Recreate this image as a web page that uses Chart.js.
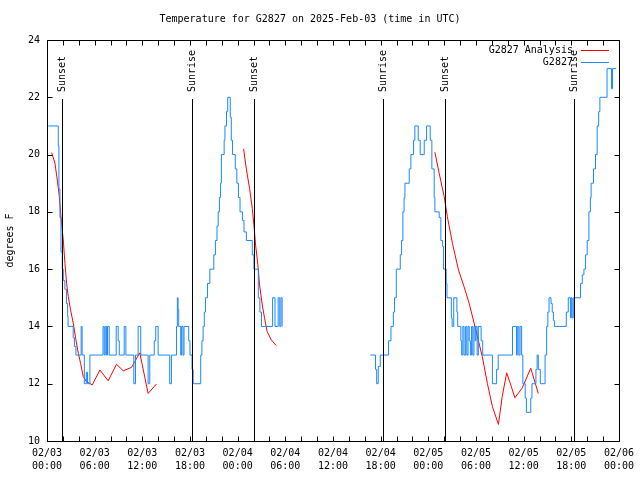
<!DOCTYPE html>
<html>
<head>
<meta charset="utf-8">
<script src="https://cdn.jsdelivr.net/npm/chart.js@4.4.1/dist/chart.umd.min.js"></script>
<style>
  html, body { margin: 0; padding: 0; background: #fff; }
  #wrap { width: 640px; height: 480px; }
</style>
</head>
<body>
<div id="wrap"><canvas id="tempChart" width="640" height="480"></canvas></div>
<script>
// hours since 02/03 00:00 UTC, temperature in F (null = gap)
const stationObs = [
    [0.16, 21], [1.42, 20.3], [1.5, 18.8], [1.63, 17.8], [1.76, 16.6], [1.92, 16.0], [2.05, 15.6],
    [2.25, 15.3], [2.45, 14.8], [2.6, 14.35], [2.65, 14], [3.3, 13.6], [3.45, 13.3], [3.64, 13],
    [4.3, 14], [4.42, 13], [4.7, 12], [4.95, 12.4], [5.1, 12], [5.4, 13], [7.05, 14], [7.2, 13],
    [7.33, 14], [7.5, 13], [7.62, 14], [7.83, 13], [8.71, 14], [8.96, 13.5], [9.1, 13], [9.72, 14],
    [9.93, 13], [10.93, 12], [11.14, 13], [11.47, 14], [11.8, 13], [12.73, 12], [12.94, 13],
    [13.5, 13.5], [13.69, 14], [13.99, 13], [15.45, 12], [15.66, 13], [16.3, 14], [16.41, 15],
    [16.5, 14.6], [16.58, 14], [16.83, 13], [16.95, 14], [17.12, 13], [17.25, 14], [17.84, 13.5],
    [18.0, 13], [18.26, 12.5], [18.4, 12], [19.35, 13], [19.5, 13.5], [19.65, 14], [19.8, 14.5],
    [19.95, 15], [20.2, 15.5], [20.5, 16], [21.0, 16.5], [21.2, 17], [21.4, 17.5], [21.55, 18],
    [21.7, 18.5], [21.85, 19], [21.95, 20], [22.3, 20.5], [22.4, 21], [22.6, 21.5], [22.75, 22],
    [23.07, 21.3], [23.2, 20.5], [23.35, 20], [23.7, 19.5], [23.9, 19], [24.1, 18.5], [24.3, 18],
    [24.6, 17.7], [24.8, 17.3], [25.1, 17], [25.84, 16.5], [26.05, 16], [26.6, 15], [26.8, 14.5],
    [27.0, 14], [28.4, 15], [28.7, 14], [29.1, 15], [29.3, 14], [29.45, 15], [29.6, 14],
    [35, null],
    [40.7, 13], [41.35, 12.5], [41.5, 12], [41.7, 12.6], [41.95, 13], [43.0, 13.5], [43.3, 14],
    [43.6, 14.5], [43.75, 15], [43.97, 16], [44.47, 16.5], [44.64, 17], [44.8, 18], [44.95, 18.5],
    [45.06, 19], [45.6, 19.5], [45.81, 20], [46.15, 20.5], [46.31, 21], [46.73, 20.5], [46.98, 20],
    [47.49, 20.5], [47.78, 21], [48.24, 20.5], [48.45, 19.5], [48.74, 18.5], [48.83, 18],
    [49.37, 17.8], [49.58, 17], [49.8, 16.8], [49.92, 16], [50.25, 15.5], [50.35, 15], [50.9, 14.3],
    [51.0, 14], [51.2, 15], [51.6, 14.5], [51.7, 14], [52.1, 13.5], [52.2, 13], [52.35, 14],
    [52.5, 13], [52.7, 14], [52.85, 13], [53.0, 14], [53.15, 13.5], [53.3, 13], [53.45, 14],
    [53.6, 13], [53.75, 14], [53.9, 13.5], [54.0, 14], [54.15, 13], [54.3, 14], [54.65, 13.5],
    [54.85, 13], [56.07, 12], [56.6, 12.5], [56.8, 13], [58.6, 14], [59.1, 13], [59.2, 14],
    [59.4, 13], [59.55, 14], [59.75, 13], [59.9, 12], [60.2, 11.5], [60.35, 11], [60.9, 11.5],
    [61.05, 12], [61.55, 12.5], [61.7, 13], [61.85, 12.5], [62.1, 12], [62.7, 13], [62.9, 14],
    [63.05, 14.5], [63.2, 15], [63.45, 14.8], [63.6, 14.5], [63.75, 14.2], [63.9, 14], [65.37, 14.5],
    [65.62, 15], [65.91, 14.3], [66.0, 15], [66.1, 14.3], [66.25, 15], [67.17, 15.5], [67.38, 15.8],
    [67.59, 16], [67.8, 16.5], [68.0, 17], [68.22, 18], [68.4, 18.5], [68.5, 19], [68.8, 19.5],
    [69.05, 20], [69.26, 21], [69.45, 21.5], [69.6, 22], [70.5, 23], [71.06, 22.3], [71.19, 23],
    [71.65, 23]
];

const analysis = [
    [0.59, 20.07], [1.0, 19.7], [1.3, 19.11], [1.55, 18.53], [1.72, 17.95], [1.88, 17.48],
    [2.05, 17.02], [2.26, 16.2], [2.47, 15.5], [2.68, 15.04], [2.97, 14.57], [3.31, 14.11],
    [3.64, 13.53], [3.94, 13.06], [4.23, 12.71], [4.56, 12.25], [4.98, 12.07], [5.7, 11.96],
    [6.66, 12.48], [7.7, 12.1], [8.75, 12.68], [9.6, 12.45], [10.64, 12.57], [11.68, 13.08],
    [12.73, 11.66], [13.78, 11.99],
    [19, null],
    [24.75, 20.2], [25.08, 19.52], [25.5, 18.82], [25.84, 18.12], [26.05, 17.54], [26.26, 16.84],
    [26.55, 16.15], [26.76, 15.45], [27.1, 14.75], [27.39, 14.28], [27.72, 13.82], [28.23, 13.53],
    [28.86, 13.33],
    [38, null],
    [48.83, 20.08], [49.37, 19.35], [50.0, 18.53], [50.4, 17.83], [51.04, 16.9], [51.8, 15.97],
    [52.5, 15.39], [53.14, 14.81], [53.98, 13.88], [54.8, 12.94], [55.44, 12.01], [56.07, 11.2],
    [56.83, 10.58], [57.3, 11.55], [57.87, 12.38], [58.38, 11.96], [58.9, 11.51], [59.8, 11.84],
    [60.9, 12.54], [61.85, 11.66]
];

const sunsetHours = [1.95, 26.0, 50.1];
const sunriseHours = [18.2, 42.35, 66.4];
const sunLineTop = 21.95;

const xMin = 0, xMax = 72, xStep = 6, xMinorStep = 2;
const yMin = 10, yMax = 24, yStep = 2;

const FONT = '"DejaVu Sans Mono", "Liberation Mono", monospace';

function toPoints(rows) {
    return rows.map(([x, y]) => ({ x, y }));
}

function hourLabel(h) {
    const day = 3 + Math.floor(h / 24);
    const hr = h % 24;
    return ['02/0' + day, String(hr).padStart(2, '0') + ':00'];
}

// gnuplot-like frame: border, inward ticks, sun markers, legend
const gnuplotFrame = {
    id: 'gnuplotFrame',
    afterDatasetsDraw(chart) {
        const { ctx, chartArea: a, scales: { x, y } } = chart;
        ctx.save();
        ctx.strokeStyle = '#000';
        ctx.fillStyle = '#000';
        ctx.lineWidth = 1;
        ctx.font = '10px ' + FONT;
        const top = Math.round(y.getPixelForValue(sunLineTop));
        const marks = sunsetHours.map(h => [h, 'Sunset']).concat(sunriseHours.map(h => [h, 'Sunrise']));
        marks.forEach(([h, text]) => {
            const px = Math.round(x.getPixelForValue(h)) + 0.5;
            ctx.beginPath();
            ctx.moveTo(px, Math.round(a.bottom));
            ctx.lineTo(px, top);
            ctx.stroke();
            ctx.save();
            ctx.translate(px, top - 7);
            ctx.rotate(-Math.PI / 2);
            ctx.textAlign = 'left';
            ctx.textBaseline = 'middle';
            ctx.fillText(text, 0, 0);
            ctx.restore();
        });
        ctx.restore();
    },
    afterDraw(chart) {
        const { ctx, chartArea: a, scales: { x, y } } = chart;
        const L = Math.round(a.left) + 0.5, R = Math.round(a.right) + 0.5;
        const T = Math.round(a.top) + 0.5, B = Math.round(a.bottom) + 0.5;
        ctx.save();
        ctx.strokeStyle = '#000';
        ctx.lineWidth = 1;
        ctx.beginPath();
        ctx.rect(L, T, R - L, B - T);
        // y ticks, mirrored
        y.ticks.forEach(t => {
            const py = Math.round(y.getPixelForValue(t.value)) + 0.5;
            ctx.moveTo(L, py); ctx.lineTo(L + 5, py);
            ctx.moveTo(R, py); ctx.lineTo(R - 5, py);
        });
        // x ticks every 2 hours, mirrored
        for (let h = xMin; h <= xMax; h += xMinorStep) {
            const px = Math.round(x.getPixelForValue(h)) + 0.5;
            ctx.moveTo(px, B); ctx.lineTo(px, B - 5);
            ctx.moveTo(px, T); ctx.lineTo(px, T + 5);
        }
        ctx.stroke();

        // legend in the top right corner
        ctx.font = '10px ' + FONT;
        ctx.textAlign = 'right';
        ctx.textBaseline = 'middle';
        ctx.fillStyle = '#000';
        chart.data.datasets.forEach((ds, i) => {
            const ly = Math.round(a.top) + 10 + i * 12 + 0.5;
            ctx.fillText(ds.label, a.right - 46, ly);
            ctx.strokeStyle = ds.borderColor;
            ctx.beginPath();
            ctx.moveTo(a.right - 38, ly);
            ctx.lineTo(a.right - 10, ly);
            ctx.stroke();
        });
        ctx.restore();
    }
};

const ctx = document.getElementById('tempChart').getContext('2d');
Chart.defaults.color = '#000';
Chart.defaults.font.family = FONT;
Chart.defaults.font.size = 10;

new Chart(ctx, {
    type: 'line',
    data: {
        datasets: [
            {
                label: 'G2827 Analysis',
                data: toPoints(analysis),
                borderColor: '#ff0000',
                borderWidth: 1,
                pointRadius: 0,
                tension: 0,
                spanGaps: false,
                order: 1
            },
            {
                label: 'G2827',
                data: toPoints(stationObs),
                borderColor: '#1a88ff',
                borderWidth: 1,
                pointRadius: 0,
                stepped: true,
                spanGaps: false,
                order: 0
            }
        ]
    },
    options: {
        responsive: false,
        animation: false,
        layout: { padding: { left: 0, right: 20, top: 0, bottom: 0 } },
        plugins: {
            legend: { display: false },
            tooltip: { enabled: false },
            title: {
                display: true,
                text: 'Temperature for G2827 on 2025-Feb-03 (time in UTC)',
                font: { size: 10, weight: 'normal', lineHeight: 1.2 },
                padding: { top: 13, bottom: 15 }
            }
        },
        scales: {
            x: {
                type: 'linear',
                min: xMin,
                max: xMax,
                grid: { display: false, drawTicks: false },
                border: { display: false },
                ticks: {
                    stepSize: xStep,
                    autoSkip: false,
                    maxRotation: 0,
                    padding: 6,
                    font: { size: 10, lineHeight: 1.3 },
                    callback: v => hourLabel(v)
                },
                afterFit: s => { s.height = 39; }
            },
            y: {
                min: yMin,
                max: yMax,
                grid: { display: false, drawTicks: false },
                border: { display: false },
                ticks: { stepSize: yStep, padding: 7 },
                title: {
                    display: true,
                    text: 'degrees F',
                    font: { size: 10, lineHeight: 1.2 },
                    padding: { top: 4, bottom: 4 }
                },
                afterFit: s => { s.width = 47; }
            }
        }
    },
    plugins: [gnuplotFrame]
});
</script>
</body>
</html>
